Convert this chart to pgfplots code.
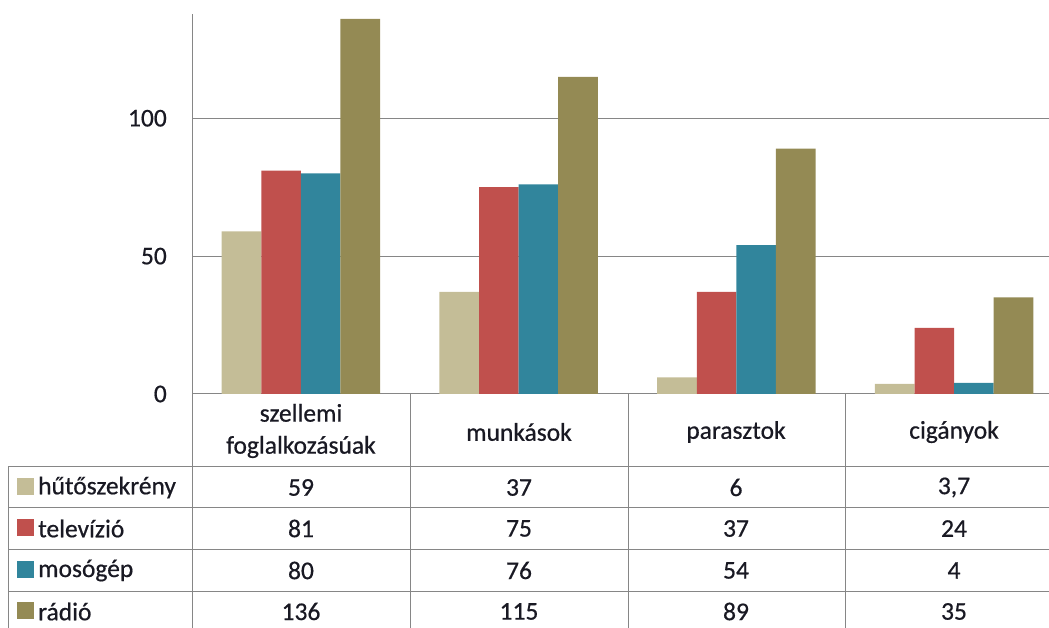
\documentclass[border=0pt]{standalone}
\usepackage{pgfplots}
\pgfplotsset{compat=1.18}
\usepackage{fontspec}
\setmainfont{Carlito}[FakeBold=0.6]
\definecolor{cHuto}{RGB}{196,189,151}
\definecolor{cTv}{RGB}{192,80,77}
\definecolor{cMos}{RGB}{49,133,156}
\definecolor{cRad}{RGB}{148,138,84}
\definecolor{linec}{RGB}{134,134,134}
\definecolor{txt}{RGB}{25,25,35}
\begin{document}
\begin{tikzpicture}[x=1pt,y=1pt]
\useasboundingbox (0,0) rectangle (1049,628);
\begin{axis}[
  at={(192pt,234pt)}, anchor=south west,
  scale only axis, width=871pt, height=380pt,
  xmin=-0.5, xmax=3.5, ymin=0, ymax=137.8,
  clip=false,
  ybar=0pt, bar width=39.6pt,
  axis lines*=left,
  axis line style={linec, line width=1pt},
  xtick=\empty,
  ytick={0,50,100},
  ymajorgrids, grid style={linec, line width=1pt},
  major tick length=0pt,
  /pgf/number format/assume math mode=true,
  yticklabel style={font=\fontsize{25.5}{30}\selectfont, text=txt, inner sep=0pt, xshift=-25pt},
]
\addplot[fill=cHuto, draw=none] coordinates {(0,59) (1,37) (2,6) (3,3.7)};
\addplot[fill=cTv, draw=none] coordinates {(0,81) (1,75) (2,37) (3,24)};
\addplot[fill=cMos, draw=none] coordinates {(0,80) (1,76) (2,54) (3,4)};
\addplot[fill=cRad, draw=none] coordinates {(0,136) (1,115) (2,89) (3,35)};
\end{axis}
% data table
\begin{scope}[linec, line width=1pt]
  \foreach \xx in {192,410,628,845} \draw (\xx,234) -- (\xx,0);
  \draw (8,161) -- (8,0);
  \foreach \yy in {161,120,78,36} \draw (8,\yy) -- (1060,\yy);
\end{scope}
\begin{scope}[font=\fontsize{25.5}{32}\selectfont, text=txt]
  \node[align=center] at (301,197) {szellemi\\foglalkozásúak};
  \node at (519,196) {munkások};
  \node at (736,196) {parasztok};
  \node at (954,196) {cigányok};
  \fill[cHuto] (17,133) rectangle (34,150);
  \fill[cTv] (17,92) rectangle (34,109);
  \fill[cMos] (17,50) rectangle (34,67);
  \fill[cRad] (17,9) rectangle (34,26);
  \node[anchor=west, inner sep=0pt] at (38,140.5) {hűtőszekrény};
  \node[anchor=west, inner sep=0pt] at (38,99.5) {televízió};
  \node[anchor=west, inner sep=0pt] at (38,57.5) {mosógép};
  \node[anchor=west, inner sep=0pt] at (38,16.5) {rádió};
  \node at (301,140.5) {59};   \node at (519,140.5) {37};  \node at (736,140.5) {6};  \node at (954,140.5) {3,7};
  \node at (301,99.5) {81};    \node at (519,99.5) {75};   \node at (736,99.5) {37}; \node at (954,99.5) {24};
  \node at (301,57.5) {80};    \node at (519,57.5) {76};   \node at (736,57.5) {54}; \node at (954,57.5) {4};
  \node at (301,16.5) {136};   \node at (519,16.5) {115};  \node at (736,16.5) {89}; \node at (954,16.5) {35};
\end{scope}
\end{tikzpicture}
\end{document}
